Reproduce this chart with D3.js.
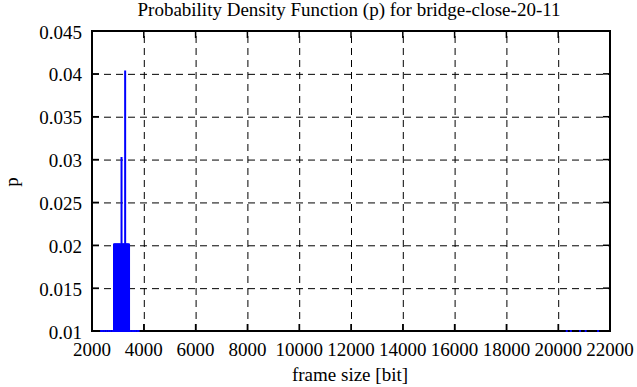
<!DOCTYPE html>
<html>
<head>
<meta charset="utf-8">
<script src="https://cdn.jsdelivr.net/npm/d3@7"></script>
<style>
  body { margin: 0; background: #fff; }
</style>
</head>
<body>
<div id="chart"></div>
<script>
// Data: frame sizes [bit] and their probability.
var blockSizes = [2850, 2870, 2890, 2910, 2930, 2950, 2970, 2990, 3010, 3030, 3050, 3070, 3090, 3110,
                  3160, 3180, 3200, 3220, 3240, 3260, 3300, 3320, 3340, 3360, 3380, 3400, 3430];
var blockP = 0.0202;
var peakSizes = [3140, 3280];
var peakP = [0.0303, 0.0404];
var singleSizes = [2350, 2420, 2490, 2560, 2630, 2700, 2780, 3480, 3550, 3620, 3690, 3760, 3800,
                   20330, 20490, 20840, 21060, 21540];
var singleP = 0.0101;

var xTicks = [2000, 4000, 6000, 8000, 10000, 12000, 14000, 16000, 18000, 20000, 22000];
var yTicks = [0.01, 0.015, 0.02, 0.025, 0.03, 0.035, 0.04, 0.045];

const WIDTH = 637;
const HEIGHT = 387;
const PLOT = {'left': 92, 'right': 610, 'top': 31, 'bottom': 331};
const FONT = "'Liberation Serif', 'Times New Roman', Times, serif";

window.onload = function() {

    var svg = d3.select("#chart").append("svg")
                .attr("width", WIDTH)
                .attr("height", HEIGHT)
                .attr("font-family", FONT)
                .attr("font-size", 19);

    var x = d3.scaleLinear().domain([2000, 22000]).range([PLOT.left, PLOT.right]);
    var y = d3.scaleLinear().domain([0.01, 0.045]).range([PLOT.bottom, PLOT.top]);

    // grid
    var grid = svg.append("g").attr("stroke", "#000").attr("stroke-width", 1)
                  .attr("stroke-dasharray", "7,5");
    grid.selectAll(".gx").data(xTicks.slice(1, -1)).enter().append("line")
        .attr("x1", d => x(d) + 0.5).attr("x2", d => x(d) + 0.5)
        .attr("y1", PLOT.bottom).attr("y2", PLOT.top);
    grid.selectAll(".gy").data(yTicks.slice(1, -1)).enter().append("line")
        .attr("x1", PLOT.left).attr("x2", PLOT.right)
        .attr("y1", d => y(d) + 0.5).attr("y2", d => y(d) + 0.5);

    // tick marks, inside on all sides
    var ticks = svg.append("g").attr("stroke", "#000").attr("stroke-width", 1.5);
    xTicks.forEach(function(d) {
        ticks.append("line").attr("x1", x(d)).attr("x2", x(d)).attr("y1", PLOT.bottom).attr("y2", PLOT.bottom - 7);
        ticks.append("line").attr("x1", x(d)).attr("x2", x(d)).attr("y1", PLOT.top).attr("y2", PLOT.top + 7);
    });
    yTicks.forEach(function(d) {
        ticks.append("line").attr("x1", PLOT.left).attr("x2", PLOT.left + 7).attr("y1", y(d)).attr("y2", y(d));
        ticks.append("line").attr("x1", PLOT.right).attr("x2", PLOT.right - 7).attr("y1", y(d)).attr("y2", y(d));
    });

    // border
    svg.append("rect")
       .attr("x", PLOT.left).attr("y", PLOT.top)
       .attr("width", PLOT.right - PLOT.left).attr("height", PLOT.bottom - PLOT.top)
       .attr("fill", "none").attr("stroke", "#000").attr("stroke-width", 2);

    // impulses
    var data = [];
    blockSizes.forEach(d => data.push({size: d, p: blockP}));
    peakSizes.forEach((d, i) => data.push({size: d, p: peakP[i]}));
    singleSizes.forEach(d => data.push({size: d, p: singleP}));

    svg.append("g").selectAll("line").data(data).enter().append("line")
       .attr("x1", d => x(d.size)).attr("x2", d => x(d.size))
       .attr("y1", PLOT.bottom + 1)
       .attr("y2", d => Math.min(y(d.p), PLOT.bottom - 1))
       .attr("stroke", "#0000ff").attr("stroke-width", 2);

    // tick labels
    svg.append("g").selectAll("text").data(xTicks).enter().append("text")
       .attr("x", d => x(d)).attr("y", 356)
       .attr("text-anchor", "middle")
       .text(d => d);
    svg.append("g").selectAll("text").data(yTicks).enter().append("text")
       .attr("x", 82).attr("y", d => y(d) + 7.5)
       .attr("text-anchor", "end")
       .text(d => d3.format("")(+d.toFixed(3)));

    // titles
    svg.append("text").attr("x", 349).attr("y", 16).attr("text-anchor", "middle")
       .text("Probability Density Function (p) for bridge-close-20-11");
    svg.append("text").attr("x", 350).attr("y", 381).attr("text-anchor", "middle")
       .text("frame size [bit]");
    svg.append("text").attr("transform", "translate(18,182) rotate(-90)")
       .attr("text-anchor", "middle").text("p");
};
</script>
</body>
</html>
